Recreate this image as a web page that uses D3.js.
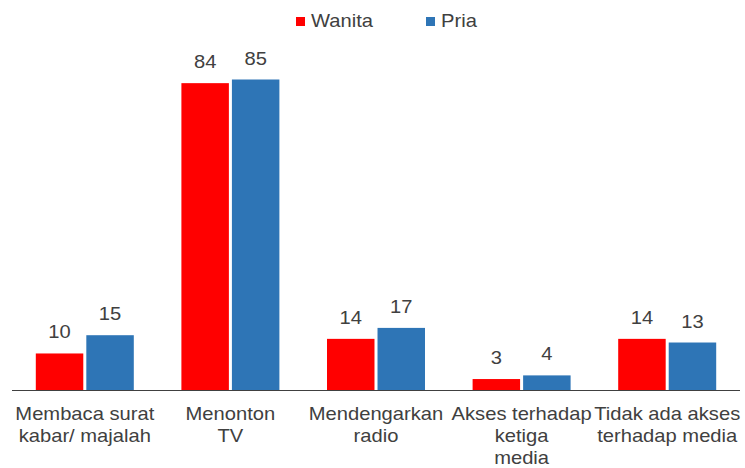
<!DOCTYPE html>
<html>
<head>
<script src="https://d3js.org/d3.v7.min.js"></script>
<style>
  body { margin: 0; background: #fff; }
  text { font-family: "Liberation Sans", Arial, sans-serif; fill: #404040; font-size: 18px; }
</style>
</head>
<body>
<div class="chart"></div>
<script>
var categories = ["Membaca surat kabar/ majalah", "Menonton TV", "Mendengarkan radio", "Akses terhadap ketiga media", "Tidak ada akses terhadap media"];
var labelLines = [["Membaca surat", "kabar/ majalah"], ["Menonton", "TV"], ["Mendengarkan", "radio"], ["Akses terhadap", "ketiga", "media"], ["Tidak ada akses", "terhadap media"]];
var seriesNames = ["Wanita", "Pria"];
var wanita = [10, 84, 14, 3, 14];
var pria = [15, 85, 17, 4, 13];
var colors = ["#ff0000", "#2e75b6"];

var w = 745, h = 468;
var left = 12, right = 740, base = 390;
var sx = 1.12; // text in the original is a bit wide

var svg = d3.select(".chart").append("svg")
  .attr("width", w)
  .attr("height", h);

var x = d3.scaleBand().domain(categories).range([left, right]).paddingInner(0).paddingOuter(0);
var y = d3.scaleLinear().domain([0, 85]).range([base, 79.5]);
var inner = d3.scaleBand().domain(seriesNames).range([0, 98]).paddingInner(0.06);

var series = [wanita, pria];
series.forEach(function(vals, s) {
  var g = svg.append("g");
  var off = (x.bandwidth() - 98) / 2;
  g.selectAll("rect")
    .data(vals)
    .enter()
    .append("rect")
    .attr("x", function(d, i) { return x(categories[i]) + off + inner(seriesNames[s]); })
    .attr("y", function(d) { return y(d); })
    .attr("width", inner.bandwidth())
    .attr("height", function(d) { return base - y(d); })
    .attr("fill", colors[s]);
  g.selectAll("text")
    .data(vals)
    .enter()
    .append("text")
    .attr("transform", function(d, i) {
      var cx = x(categories[i]) + off + inner(seriesNames[s]) + inner.bandwidth() / 2;
      return "translate(" + cx + "," + (y(d) - 15) + ") scale(" + sx + ",1)";
    })
    .attr("text-anchor", "middle")
    .text(function(d) { return d; });
});

svg.append("line")
  .attr("x1", left).attr("x2", right)
  .attr("y1", base + 0.5).attr("y2", base + 0.5)
  .attr("stroke", "#404040")
  .attr("stroke-width", 1);

var labels = svg.append("g").selectAll("text")
  .data(categories)
  .enter()
  .append("text")
  .attr("text-anchor", "middle")
  .attr("transform", function(d) { return "translate(" + (x(d) + x.bandwidth() / 2) + "," + 420 + ") scale(" + sx + ",1)"; });
labels.each(function(d, i) {
  var t = d3.select(this);
  labelLines[i].forEach(function(line, j) {
    t.append("tspan").attr("x", 0).attr("y", j * 22).text(line);
  });
});

// legend
var legendX = [296, 426];
var legend = svg.append("g").selectAll("g")
  .data(seriesNames)
  .enter()
  .append("g")
  .attr("transform", function(d, i) { return "translate(" + legendX[i] + ",0)"; });
legend.append("rect")
  .attr("x", 0).attr("y", 17)
  .attr("width", 9).attr("height", 9)
  .attr("fill", function(d, i) { return colors[i]; });
legend.append("text")
  .attr("transform", "translate(15,26.5) scale(" + sx + ",1)")
  .text(function(d) { return d; });
</script>
</body>
</html>
